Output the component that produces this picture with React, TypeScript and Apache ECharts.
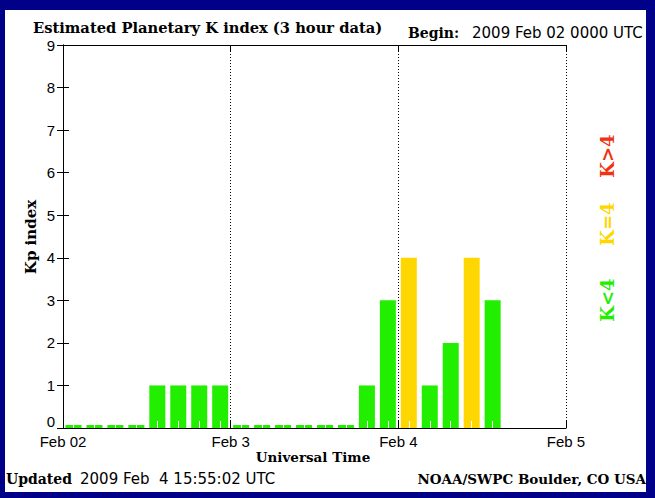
import React, { useEffect, useRef } from "react";
import * as echarts from "echarts";

// 3-hour slots (start time, UT) for Feb 02 .. Feb 04 2009
const slotTimes = [
  "02 00", "02 03", "02 06", "02 09", "02 12", "02 15", "02 18", "02 21",
  "03 00", "03 03", "03 06", "03 09", "03 12", "03 15", "03 18", "03 21",
  "04 00", "04 03", "04 06", "04 09", "04 12", "04 15", "04 18", "04 21",
];
// Kp values per slot (null = no data yet)
const kpFeb02: (number | null)[] = [0, 0, 0, 0, 1, 1, 1, 1];
const kpFeb03: (number | null)[] = [0, 0, 0, 0, 0, 0, 1, 3];
const kpFeb04: (number | null)[] = [4, 1, 2, 4, 3, null, null, null];

const dayLabels = ["Feb 02", "Feb 3", "Feb 4", "Feb 5"];
const yTicks = [0, 1, 2, 3, 4, 5, 6, 7, 8, 9];

const GREEN = "#22ee00";
const YELLOW = "#ffd700";
const RED = "#ee3311";
const NAVY = "#000088";

const SERIF = '"DejaVu Serif", serif';
const SANS = '"Liberation Sans", Arial, sans-serif';
const WIDE_SANS = '"DejaVu Sans", sans-serif';

export default function App() {
  const ref = useRef<HTMLDivElement>(null);
  useEffect(() => {
    if (!ref.current) return;
    const chart = echarts.init(ref.current, null, { renderer: "svg" });
    const values = [...kpFeb02, ...kpFeb03, ...kpFeb04];
    const colorFor = (v: number) => (v > 4 ? RED : v === 4 ? YELLOW : GREEN);
    const txt = (
      text: string,
      x: number,
      y: number,
      font: string,
      fill = "#000",
      align = "left",
      rotation = 0
    ) => ({
      type: "text",
      x,
      y,
      rotation,
      style: { text, font, fill, textAlign: align, textVerticalAlign: "middle" },
    });
    chart.setOption({
      animation: false,
      backgroundColor: NAVY,
      grid: { left: 63, top: 45, width: 503, height: 383, containLabel: false },
      xAxis: [
        {
          type: "category",
          data: slotTimes,
          position: "bottom",
          z: 10,
          boundaryGap: true,
          axisLine: { show: false },
          axisLabel: { show: false },
          axisTick: {
            show: true,
            inside: true,
            alignWithLabel: true,
            interval: 0,
            length: 7,
            lineStyle: { color: "#ffffff", width: 1 },
          },
          splitLine: { show: false },
        },
        {
          type: "value",
          min: 0,
          max: 72,
          interval: 24,
          position: "bottom",
          z: 11,
          axisLine: { show: true, lineStyle: { color: "#000", width: 1 } },
          axisTick: { show: true, inside: true, length: 7, lineStyle: { color: "#000" } },
          axisLabel: {
            show: true,
            margin: 6,
            color: "#000",
            fontFamily: SANS,
            fontSize: 15,
            lineHeight: 15,
            formatter: (v: number) => dayLabels[Math.round(v / 24)] ?? "",
          },
          splitLine: { show: true, lineStyle: { color: "#000", type: [1, 2], width: 1 } },
        },
        {
          type: "value",
          min: 0,
          max: 72,
          interval: 24,
          position: "top",
          z: 11,
          axisLine: { show: true, lineStyle: { color: "#000", width: 1 } },
          axisTick: { show: true, inside: true, length: 7, lineStyle: { color: "#000" } },
          axisLabel: { show: false },
          splitLine: { show: false },
        },
      ],
      yAxis: [
        {
          type: "value",
          min: 0,
          max: 9,
          interval: 1,
          position: "left",
          z: 11,
          axisLine: { show: true, lineStyle: { color: "#000", width: 1 } },
          axisTick: { show: true, inside: true, length: 6, lineStyle: { color: "#000" } },
          axisLabel: {
            show: true,
            margin: 8,
            color: "#000",
            fontFamily: SANS,
            fontSize: 15,
            lineHeight: 14,
            verticalAlignMinLabel: "bottom",
            formatter: (v: number) => (yTicks.includes(v) ? String(v) : ""),
          },
          splitLine: { show: false },
        },
        {
          type: "value",
          min: 0,
          max: 9,
          interval: 1,
          position: "right",
          z: 11,
          axisLine: { show: true, lineStyle: { color: "#000", width: 1 } },
          axisTick: { show: true, inside: true, length: 6, lineStyle: { color: "#000" } },
          axisLabel: { show: false },
          splitLine: { show: false },
        },
      ],
      series: [
        {
          type: "bar",
          xAxisIndex: 0,
          yAxisIndex: 0,
          barWidth: 16,
          barMinHeight: 3,
          data: values.map((v) =>
            v === null ? "-" : { value: v, itemStyle: { color: colorFor(v) } }
          ),
        },
      ],
      graphic: [
        {
          type: "rect",
          z: -100,
          shape: { x: 5, y: 10, width: 641, height: 482 },
          style: { fill: "#ffffff" },
          silent: true,
        },
        txt("Estimated Planetary K index (3 hour data)", 33, 27, `bold 14.7px ${SERIF}`),
        txt("Begin:", 408, 33, `bold 14px ${SERIF}`),
        txt("2009 Feb 02 0000 UTC", 472, 33, `15px ${WIDE_SANS}`),
        txt("Kp index", 31, 237, `bold 15px ${SERIF}`, "#000", "center", Math.PI / 2),
        txt("Universal Time", 313, 457, `bold 13.5px ${SERIF}`, "#000", "center"),
        txt("Updated", 6, 479, `bold 14px ${SERIF}`),
        txt("2009 Feb  4 15:55:02 UTC", 80, 479, `15px ${WIDE_SANS}`),
        txt("NOAA/SWPC Boulder, CO USA", 646, 479, `bold 13.5px ${SERIF}`, "#000", "right"),
        txt("K>4", 607, 156, `bold 18px ${SERIF}`, RED, "center", Math.PI / 2),
        txt("K=4", 607, 224, `bold 18px ${SERIF}`, YELLOW, "center", Math.PI / 2),
        txt("K<4", 607, 300, `bold 18px ${SERIF}`, GREEN, "center", Math.PI / 2),
      ],
    });
    return () => chart.dispose();
  }, []);
  return (
    <div
      ref={ref}
      style={{ position: "fixed", left: 0, top: 0, width: 655, height: 498 }}
    />
  );
}
